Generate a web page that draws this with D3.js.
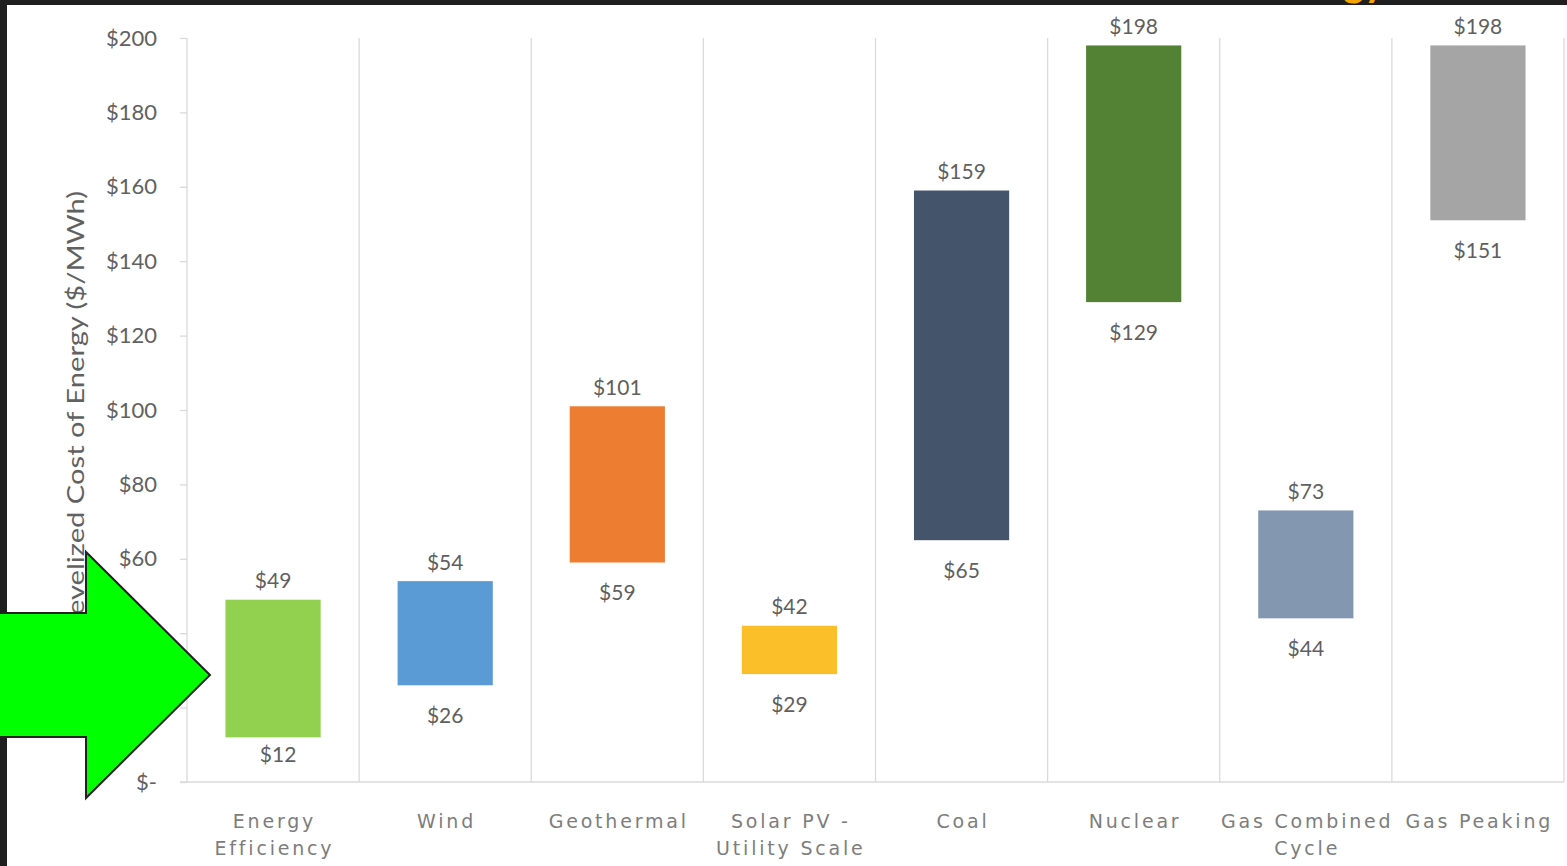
<!DOCTYPE html>
<html>
<head>
<meta charset="utf-8">
<script src="https://cdn.jsdelivr.net/npm/d3@7"></script>
<style>
  html, body { margin: 0; padding: 0; background: #ffffff; }
  svg { display: block; }
</style>
</head>
<body>
<svg id="chart" width="1567" height="866"></svg>
<script>
// Levelized cost of energy ranges by technology ($/MWh)
const categories = [
  "Energy\nEfficiency",
  "Wind",
  "Geothermal",
  "Solar PV -\nUtility Scale",
  "Coal",
  "Nuclear",
  "Gas Combined\nCycle",
  "Gas Peaking"
];
const lowValues  = [12, 26, 59, 29, 65, 129, 44, 151];
const highValues = [49, 54, 101, 42, 159, 198, 73, 198];
const barColors  = ["#92d050", "#5b9bd5", "#ed7d31", "#fbbf2a", "#44546a", "#548235", "#8497b0", "#a5a5a5"];
const yTicks     = [0, 20, 40, 60, 80, 100, 120, 140, 160, 180, 200];
const yTitle     = "Levelized Cost of Energy ($/MWh)";

const svg = d3.select("#chart");
const W = 1567, H = 866;
const plot = { left: 187, right: 1564, top: 38, bottom: 782 };

const x = d3.scaleBand()
  .domain(d3.range(categories.length))
  .range([plot.left, plot.right])
  .paddingInner(0).paddingOuter(0);

const y = d3.scaleLinear().domain([0, 200]).range([plot.bottom, plot.top]);

const barW = x.bandwidth() * 0.553;
const gridColor = "#dadada";
const numFont = "Lato, 'Open Sans', sans-serif";

// vertical separators between categories
svg.append("g")
  .selectAll("line")
  .data(d3.range(categories.length + 1))
  .join("line")
  .attr("x1", i => i < categories.length ? x(i) : plot.right)
  .attr("x2", i => i < categories.length ? x(i) : plot.right)
  .attr("y1", y(200))
  .attr("y2", y(0))
  .attr("stroke", gridColor)
  .attr("stroke-width", 1.3);

// baseline
svg.append("line")
  .attr("x1", plot.left - 7).attr("x2", plot.right)
  .attr("y1", y(0)).attr("y2", y(0))
  .attr("stroke", gridColor).attr("stroke-width", 1.5);

// y axis
const yAxis = svg.append("g")
  .attr("transform", `translate(${plot.left},0)`)
  .call(d3.axisLeft(y)
    .tickValues(yTicks)
    .tickSize(7)
    .tickPadding(23)
    .tickFormat(d => d === 0 ? "$-" : "$" + d));
yAxis.select(".domain").remove();
yAxis.selectAll(".tick line").attr("stroke", gridColor).attr("stroke-width", 1.3);
yAxis.selectAll(".tick text")
  .attr("fill", "#616161")
  .style("font-family", numFont)
  .style("font-size", "22px");

// y axis title
svg.append("text")
  .attr("transform", `translate(84,${410}) rotate(-90)`)
  .attr("text-anchor", "middle")
  .attr("textLength", 438)
  .attr("lengthAdjust", "spacingAndGlyphs")
  .attr("fill", "#616161")
  .style("font-family", numFont)
  .style("font-size", "23px")
  .text(yTitle);

// floating range bars
const idx = d3.range(categories.length);
svg.append("g")
  .selectAll("rect")
  .data(idx)
  .join("rect")
  .attr("x", i => x(i) + (x.bandwidth() - barW) / 2)
  .attr("width", barW)
  .attr("y", i => y(highValues[i]))
  .attr("height", i => y(lowValues[i]) - y(highValues[i]))
  .attr("fill", i => barColors[i]);

// value labels above and below each bar
const labelStyle = sel => sel
  .attr("text-anchor", "middle")
  .attr("fill", "#5f5f5f")
  .style("font-family", numFont)
  .style("font-size", "21px");

svg.append("g").selectAll("text")
  .data(idx)
  .join("text")
  .call(labelStyle)
  .attr("x", i => x(i) + x.bandwidth() / 2)
  .attr("y", i => y(highValues[i]) - 19 + 7.5)
  .text(i => "$" + highValues[i]);

const lowGap = i => (i === 0 ? 17 : 30);
svg.append("g").selectAll("text")
  .data(idx)
  .join("text")
  .call(labelStyle)
  .attr("x", i => x(i) + x.bandwidth() / 2 + (i === 0 ? 5 : 0))
  .attr("y", i => y(lowValues[i]) + lowGap(i) + 7.5)
  .text(i => "$" + lowValues[i]);

// category labels
const cat = svg.append("g").selectAll("text")
  .data(idx)
  .join("text")
  .attr("text-anchor", "middle")
  .attr("fill", "#7d7d7d")
  .style("font-family", "'DejaVu Sans', Verdana, sans-serif")
  .style("font-size", "19px")
  .style("letter-spacing", "2.8px");
cat.each(function(i) {
  const lines = categories[i].split("\n");
  d3.select(this).selectAll("tspan")
    .data(lines)
    .join("tspan")
    .attr("x", x(i) + x.bandwidth() / 2 + 1.4)
    .attr("y", (d, k) => 828 + k * 27)
    .text(d => d);
});

// dark frame along the top and left edges
svg.append("rect").attr("x", 0).attr("y", 0).attr("width", W).attr("height", 5).attr("fill", "#1f1f1f");
svg.append("rect").attr("x", 0).attr("y", 0).attr("width", 7).attr("height", H).attr("fill", "#1f1f1f");

// heading fragment at the top edge
svg.append("text")
  .attr("x", 1343).attr("y", -4)
  .attr("fill", "#f4a300")
  .style("font-family", numFont)
  .style("font-weight", "bold")
  .style("font-size", "40px")
  .text("gy");

// green pointer arrow
const arrow = [[-5, 613], [86, 613], [86, 552], [210, 675], [86, 798], [86, 737], [-5, 737]];
svg.append("path")
  .attr("d", d3.line()(arrow) + "Z")
  .attr("fill", "#00ff00")
  .attr("stroke", "#222222")
  .attr("stroke-width", 2);
</script>
</body>
</html>
